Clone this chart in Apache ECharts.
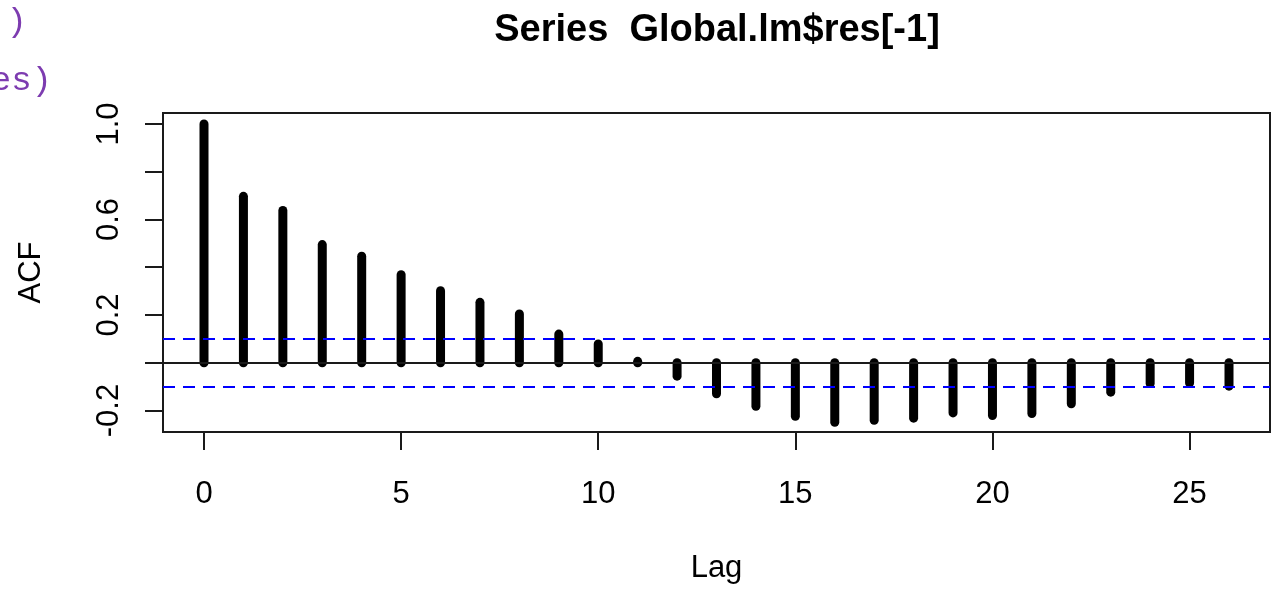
<!DOCTYPE html>
<html>
<head>
<meta charset="utf-8">
<title>ACF of Global.lm residuals</title>
<script src="https://cdn.jsdelivr.net/npm/echarts@6/dist/echarts.min.js"></script>
<style>
  html, body { margin: 0; padding: 0; background: #fff; }
  #chart { width: 1274px; height: 589px; }
</style>
</head>
<body>
<div id="chart"></div>
<script>
// Autocorrelation of the regression residuals, lags 0..26
const lags = [0, 1, 2, 3, 4, 5, 6, 7, 8, 9, 10, 11, 12, 13, 14, 15, 16, 17, 18, 19, 20, 21, 22, 23, 24, 25, 26];
const acfValues = [1.0, 0.697, 0.638, 0.495, 0.446, 0.369, 0.302, 0.253, 0.204, 0.120, 0.079, 0.006,
  -0.056, -0.130, -0.182, -0.224, -0.249, -0.241, -0.232, -0.210, -0.221, -0.213, -0.172, -0.123,
  -0.087, -0.085, -0.098];
// Approximate 95% confidence bound (+/-)
const ciLimit = 0.095;
// Axis tick positions and which ticks carry labels
const xTicks = [0, 5, 10, 15, 20, 25];
const yTicks = [-0.2, 0, 0.2, 0.4, 0.6, 0.8, 1.0];
const yLabelTicks = [-0.2, 0.2, 0.6, 1.0];
// Console lines partly visible behind the plot
const consoleLines = [')', 'es)'];

const chart = echarts.init(document.getElementById('chart'), null, { renderer: 'canvas' });

const FONT = '"Liberation Sans", Arial, sans-serif';
const MONO = '"Liberation Mono", monospace';

const option = {
  backgroundColor: '#ffffff',
  animation: false,
  title: {
    text: 'Series  Global.lm$res[-1]',
    left: 712,
    top: 7,
    textAlign: 'center',
    textStyle: { fontFamily: FONT, fontSize: 38, fontWeight: 'bold', color: '#000' }
  },
  grid: {
    left: 163, right: 4, top: 113, bottom: 156,
    show: true, borderColor: '#1a1a1a', borderWidth: 2, backgroundColor: 'transparent'
  },
  xAxis: {
    type: 'value',
    min: -1.04, max: 27.04,
    name: 'Lag',
    nameLocation: 'middle',
    nameGap: 121,
    nameTextStyle: { fontFamily: FONT, fontSize: 31, color: '#000' },
    axisLine: { show: false, onZero: false },
    splitLine: { show: false },
    axisTick: { show: true, length: 18, customValues: xTicks, lineStyle: { color: '#1a1a1a', width: 2 } },
    axisLabel: {
      customValues: xTicks, margin: 47,
      fontFamily: FONT, fontSize: 31, color: '#000'
    }
  },
  yAxis: {
    type: 'value',
    min: -0.29, max: 1.046,
    name: 'ACF',
    nameLocation: 'middle',
    nameGap: 116,
    nameTextStyle: { fontFamily: FONT, fontSize: 31, color: '#000' },
    axisLine: { show: false, onZero: false },
    splitLine: { show: false },
    axisTick: { show: true, length: 18, customValues: yTicks, lineStyle: { color: '#1a1a1a', width: 2 } },
    axisLabel: {
      customValues: yLabelTicks, margin: 38, rotate: 90,
      fontFamily: FONT, fontSize: 31, color: '#000',
      formatter: v => v.toFixed(1)
    }
  },
  series: [{
    type: 'custom',
    name: 'ACF',
    data: lags.map((l, i) => [l, acfValues[i]]),
    renderItem: function (params, api) {
      const base = api.coord([api.value(0), 0]);
      const top = api.coord([api.value(0), api.value(1)]);
      return {
        type: 'line',
        shape: { x1: base[0], y1: base[1], x2: top[0], y2: top[1] },
        style: { stroke: '#000', lineWidth: 9, lineCap: 'round' }
      };
    },
    markLine: {
      silent: true,
      symbol: 'none',
      label: { show: false },
      data: [
        { yAxis: 0, lineStyle: { color: '#1a1a1a', width: 2, type: 'solid' } },
        { yAxis: ciLimit, lineStyle: { color: '#0000ff', width: 2, type: [12, 8] } },
        { yAxis: -ciLimit, lineStyle: { color: '#0000ff', width: 2, type: [12, 8] } }
      ]
    }
  }],
  graphic: [
    {
      type: 'text', x: 27, y: 5,
      style: { text: consoleLines[0], fontFamily: MONO, fontSize: 34, fill: '#7d3cb0', align: 'right', verticalAlign: 'top' }
    },
    {
      type: 'text', x: 52, y: 64,
      style: { text: consoleLines[1], fontFamily: MONO, fontSize: 34, fill: '#7d3cb0', align: 'right', verticalAlign: 'top' }
    }
  ]
};

chart.setOption(option);
</script>
</body>
</html>
